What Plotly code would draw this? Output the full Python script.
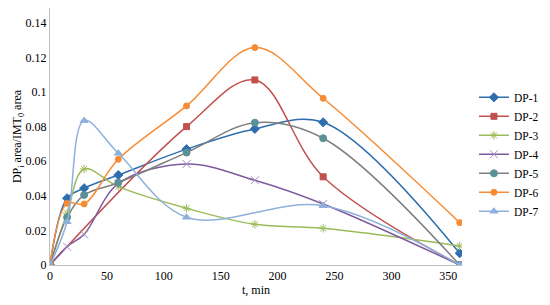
import plotly.graph_objects as go

t_full = [0, 15, 30, 60, 120, 180, 240, 360]
t_dp2 = [0, 120, 180, 240, 360]
t_dp7 = [0, 15, 30, 60, 120, 240, 360]

dp1 = [0, 0.0386, 0.0444, 0.052, 0.067, 0.0787, 0.0825, 0.0068]
dp2 = [0, 0.080, 0.107, 0.051, 0]
dp3 = [0, 0.030, 0.0555, 0.0453, 0.0328, 0.0235, 0.0212, 0.011]
dp4 = [0, 0.0106, 0.0177, 0.047, 0.0584, 0.049, 0.0353, 0]
dp5 = [0, 0.0276, 0.0405, 0.0476, 0.065, 0.0823, 0.0733, 0]
dp6 = [0, 0.0357, 0.0353, 0.0611, 0.092, 0.1257, 0.0964, 0.0245]
dp7 = [0, 0.025, 0.0835, 0.0646, 0.0276, 0.0343, 0]

names = ["DP-1", "DP-2", "DP-3", "DP-4", "DP-5", "DP-6", "DP-7"]

y_ticks = [0, 0.02, 0.04, 0.06, 0.08, 0.1, 0.12, 0.14]
y_tick_text = ["0", "0.02", "0.04", "0.06", "0.08", "0.1", "0.12", "0.14"]
x_ticks = [0, 50, 100, 150, 200, 250, 300, 350]

series = [
    (names[0], t_full, dp1, "#2F6EAE", "#2F6EAE", "diamond", 7),
    (names[1], t_dp2, dp2, "#C0504D", "#C0504D", "square", 6),
    (names[2], t_full, dp3, "#9BBB59", "#9BBB59", "asterisk-open", 7),
    (names[3], t_full, dp4, "#7D5A9E", "#A08CC0", "x-thin-open", 8),
    (names[4], t_full, dp5, "#7F7F7F", "#5B9097", "circle", 7),
    (names[5], t_full, dp6, "#F68B33", "#F68B33", "circle", 6),
    (names[6], t_dp7, dp7, "#8EB0DC", "#8EB0DC", "triangle-up", 7),
]

fig = go.Figure()
for name, xs, ys, lc, mc, sym, sz in series:
    fig.add_trace(go.Scatter(
        x=xs, y=ys, name=name, mode="lines+markers",
        line=dict(color=lc, width=1.5, shape="spline", smoothing=1.0),
        marker=dict(symbol=sym, size=sz, color=mc,
                    line=dict(color=mc, width=1)),
    ))

font = "Liberation Serif"
fig.update_layout(
    width=534, height=289,
    margin=dict(l=42, r=80, t=0, b=32, autoexpand=False),
    paper_bgcolor="white", plot_bgcolor="white",
    font=dict(family=font, size=12, color="black"),
    legend=dict(x=1.029, y=0.709, xanchor="left", yanchor="top",
                font=dict(family=font, size=11.5, color="black"),
                tracegroupgap=0, itemwidth=30, borderwidth=0,
                bgcolor="rgba(0,0,0,0)"),
    showlegend=True,
)
fig.update_xaxes(range=[0, 362], tickvals=x_ticks, showgrid=False,
                 showline=True, linecolor="#BFBFBF", linewidth=1,
                 zeroline=False, ticks="", tickfont=dict(size=12),
                 automargin=False,
                 title=dict(text="t, min", font=dict(size=12), standoff=5))
fig.update_yaxes(range=[0, 0.1486], tickvals=y_ticks, ticktext=y_tick_text,
                 showgrid=False, showline=True, linecolor="#BFBFBF",
                 linewidth=1, zeroline=False, ticks="",
                 automargin=False,
                 tickfont=dict(size=12),
                 title=dict(text="DP<sub>i</sub> area/IMT<sub>0</sub> area",
                            font=dict(size=12), standoff=0))

fig.write_html("out.html")
